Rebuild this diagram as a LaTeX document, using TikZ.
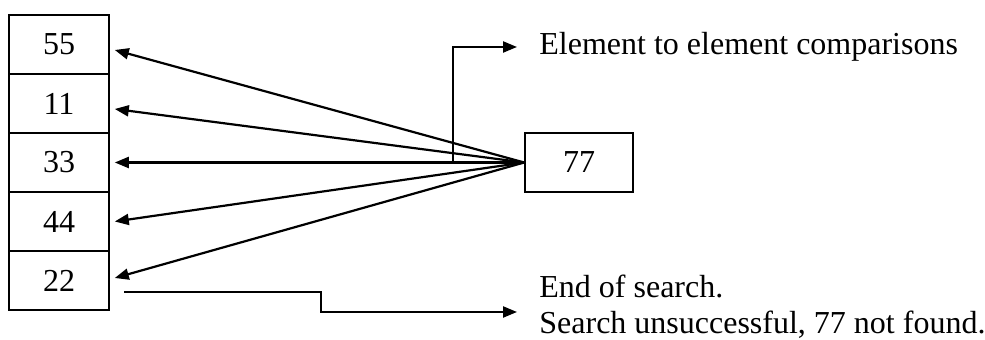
\documentclass[tikz,border=0pt]{standalone}
\usepackage{fontspec}
\setmainfont{Liberation Serif}
\usetikzlibrary{arrows.meta}
\tikzset{
  cell/.style={draw, line width=0.8pt, minimum width=50pt, minimum height=29.5pt, inner sep=0pt},
  arr/.style={line width=1.1pt, -{Triangle[length=7pt,width=5.5pt]}},
  note/.style={anchor=west, inner sep=0pt, align=left}
}
\begin{document}
\begin{tikzpicture}[x=0.5pt, y=-0.5pt, font=\fontsize{16}{18}\selectfont]
  \useasboundingbox (0,0) rectangle (985,340);
  % 배열 칸
  \node[cell] (c1) at (59,44.5) {55};
  \node[cell] (c2) at (59,103.5) {11};
  \node[cell] (c3) at (59,162.5) {33};
  \node[cell] (c4) at (59,221.5) {44};
  \node[cell] (c5) at (59,280.5) {22};
  % 찾는 값
  \node[cell, minimum width=54pt] (key) at (579,162.5) {77};
  % 원소마다 비교
  \draw[arr] (key.west) -- ([xshift=2.5pt,yshift=-2.75pt]c1.east);
  \draw[arr] (key.west) -- ([xshift=2.5pt,yshift=-2.75pt]c2.east);
  \draw[arr] (key.west) -- ([xshift=2.5pt]c3.east);
  \draw[arr] (key.west) -- ([xshift=2.5pt]c4.east);
  \draw[arr] (key.west) -- ([xshift=2.5pt,yshift=1.25pt]c5.east);
  % 설명 · 비교
  \coordinate (j) at (453,162.5);
  \node[note] (cmp) at (539,47) {Element to element comparisons};
  \draw[arr, shorten >=11pt] (j) |- (cmp.west);
  % 설명 · 검색 끝
  \coordinate (s) at (124,292);
  \node[note] (fin) at (539,307) {End of search.\\Search unsuccessful, 77 not found.};
  \draw[arr, shorten >=11pt] (s) -- ++(197,0) |- ([yshift=-2.5pt]fin.west);
\end{tikzpicture}
\end{document}
